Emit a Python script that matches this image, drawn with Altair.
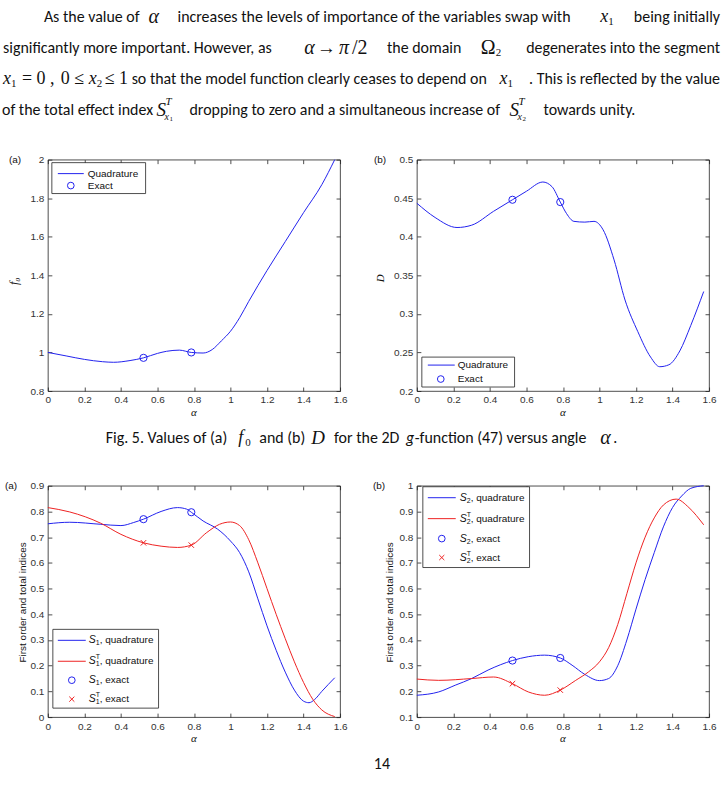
import altair as alt
import pandas as pd

# ---------------- data ----------------
x_ticks = [0, 0.2, 0.4, 0.6, 0.8, 1, 1.2, 1.4, 1.6]
f0_ticks = [0.8, 1, 1.2, 1.4, 1.6, 1.8, 2]
D_ticks = [0.2, 0.25, 0.3, 0.35, 0.4, 0.45, 0.5]
S1_ticks = [0, 0.1, 0.2, 0.3, 0.4, 0.5, 0.6, 0.7, 0.8, 0.9]
S2_ticks = [0.1, 0.2, 0.3, 0.4, 0.5, 0.6, 0.7, 0.8, 0.9, 1]

alpha_exact = [0.5236, 0.7854]

alpha_f0 = [0, 0.1, 0.2, 0.3, 0.36, 0.45, 0.5236, 0.6, 0.65, 0.72, 0.7854, 0.85, 0.9, 0.95,
            1.0, 1.05, 1.1, 1.2, 1.3, 1.4, 1.5, 1.5708]
f0_quad = [1.0, 0.982, 0.964, 0.952, 0.949, 0.958, 0.972, 0.995, 1.006, 1.012, 1.0, 0.997,
           1.015, 1.06, 1.11, 1.18, 1.265, 1.425, 1.575, 1.725, 1.87, 2.0]
f0_exact = [0.972, 1.0]

alpha_D = [0, 0.1, 0.22, 0.3, 0.42, 0.5236, 0.6, 0.69, 0.74, 0.7854, 0.82, 0.86, 0.92, 0.97,
           1.02, 1.08, 1.14, 1.21, 1.28, 1.33, 1.38, 1.44, 1.5, 1.5708]
D_quad = [0.4435, 0.425, 0.412, 0.415, 0.433, 0.448, 0.459, 0.471, 0.465, 0.445, 0.430, 0.420,
          0.419, 0.420, 0.409, 0.370, 0.318, 0.277, 0.244, 0.2315, 0.234, 0.252, 0.285, 0.329]
D_exact = [0.448, 0.445]

alpha_S1 = [0, 0.12, 0.29, 0.4, 0.47, 0.5236, 0.62, 0.71, 0.76, 0.7854, 0.85, 0.93, 1.0, 1.05,
            1.1, 1.15, 1.2, 1.25, 1.3, 1.35, 1.4, 1.43, 1.46, 1.5, 1.5708]
S1_quad = [0.752, 0.758, 0.75, 0.745, 0.757, 0.77, 0.80, 0.815, 0.809, 0.797, 0.763, 0.731,
           0.685, 0.64, 0.565, 0.46, 0.355, 0.26, 0.175, 0.105, 0.062, 0.056, 0.068, 0.10, 0.153]
S1_exact = [0.77, 0.797]

alpha_S1T = [0, 0.12, 0.29, 0.4, 0.5236, 0.62, 0.71, 0.7854, 0.87, 0.94, 1.0, 1.05, 1.1,
             1.15, 1.2, 1.25, 1.3, 1.35, 1.4, 1.45, 1.5, 1.5708]
S1T_quad = [0.815, 0.798, 0.754, 0.711, 0.678, 0.665, 0.66, 0.669, 0.718, 0.75, 0.759, 0.745,
            0.69, 0.60, 0.50, 0.40, 0.305, 0.215, 0.135, 0.07, 0.028, 0.002]
S1T_exact = [0.678, 0.669]

alpha_S2 = [0, 0.12, 0.21, 0.3, 0.39, 0.5236, 0.61, 0.70, 0.7854, 0.85, 0.92, 1.0, 1.05, 1.1,
            1.15, 1.2, 1.25, 1.3, 1.35, 1.4, 1.45, 1.5, 1.5708]
S2_quad = [0.185, 0.198, 0.224, 0.25, 0.283, 0.32, 0.335, 0.341, 0.33, 0.302, 0.266, 0.242,
           0.25, 0.30, 0.40, 0.52, 0.635, 0.74, 0.84, 0.915, 0.96, 0.99, 1.0]
S2_exact = [0.32, 0.33]

alpha_S2T = [0, 0.12, 0.3, 0.42, 0.5236, 0.61, 0.70, 0.7854, 0.87, 0.94, 1.0, 1.05, 1.1,
             1.15, 1.2, 1.25, 1.3, 1.35, 1.42, 1.49, 1.5708]
S2T_quad = [0.248, 0.243, 0.25, 0.256, 0.23, 0.198, 0.185, 0.205, 0.243, 0.276, 0.315, 0.37,
            0.46, 0.58, 0.70, 0.80, 0.875, 0.925, 0.948, 0.915, 0.848]
S2T_exact = [0.23, 0.205]

# ---------------- styling / layout ----------------
BLUE = "#2222ee"
RED = "#ee2222"
SANS = "Liberation Sans"
SERIF = "Liberation Serif"
BODY = "Carlito, Calibri, Lato, sans-serif"
BODY_SIZE = 16
W, H = 293, 232
ORIG = {"TL": (47, 158), "TR": (417, 158), "BL": (47, 485), "BR": (417, 485)}
XSCALE = alt.Scale(domain=[0, 1.6], nice=False, zero=False)
XMARK = "M-1,-1L1,1M-1,1L1,-1"
ONE = pd.DataFrame({"k": [0]})


def ax(values, orient, labels=True):
    kw = dict(values=values, orient=orient, title=None, grid=False, domain=False, ticks=True,
              tickSize=4, offset=-4, tickColor="#222", tickWidth=0.8, labels=labels)
    if labels:
        kw.update(labelFont=SANS, labelFontSize=10, labelColor="#333", labelPadding=4,
                  labelExpr="format(datum.value, '~g')", labelFlush=False,
                  labelOverlap=False, labelBound=False)
    return alt.Axis(**kw)


def T(s, x, y, o, size=BODY_SIZE, font=BODY, style="normal", align="left", baseline="middle",
      angle=0, color="#111"):
    ox, oy = o
    return alt.Chart(ONE).mark_text(text=s, align=align, baseline=baseline, font=font,
                                    fontSize=size, fontStyle=style, angle=angle,
                                    color=color).encode(x=alt.value(x - ox), y=alt.value(y - oy))


def R(x1, y1, x2, y2, o):
    ox, oy = o
    return alt.Chart(ONE).mark_rect(fill="white", stroke="#222", strokeWidth=0.8).encode(
        x=alt.value(x1 - ox), x2=alt.value(x2 - ox), y=alt.value(y1 - oy), y2=alt.value(y2 - oy))


def L(x1, x2, y, o, color):
    ox, oy = o
    return alt.Chart(ONE).mark_rule(color=color, strokeWidth=1).encode(
        x=alt.value(x1 - ox), x2=alt.value(x2 - ox), y=alt.value(y - oy))


def P(x, y, o, color, shape, size):
    ox, oy = o
    return alt.Chart(ONE).mark_point(shape=shape, size=size, filled=False, color=color,
                                     strokeWidth=1, opacity=1).encode(
        x=alt.value(x - ox), y=alt.value(y - oy))


def data_layers(lines, marks, ydom, yticks):
    ysc = alt.Scale(domain=ydom, nice=False, zero=False)
    layers = []
    for i, (a, v, color) in enumerate(lines):
        df = pd.DataFrame({"alpha": a, "v": v})
        layers.append(alt.Chart(df).mark_line(color=color, strokeWidth=1, interpolate="monotone").encode(
            x=alt.X("alpha:Q", scale=XSCALE, axis=ax(x_ticks, "bottom") if i == 0 else None),
            y=alt.Y("v:Q", scale=ysc, axis=ax(yticks, "left") if i == 0 else None)))
    a0, v0, _ = lines[0]
    layers.append(alt.Chart(pd.DataFrame({"alpha": a0, "v": v0})).mark_line(opacity=0).encode(
        x=alt.X("alpha:Q", scale=XSCALE, axis=ax(x_ticks, "top", False)),
        y=alt.Y("v:Q", scale=ysc, axis=ax(yticks, "right", False))))
    for (a, v, color, shape, size) in marks:
        layers.append(alt.Chart(pd.DataFrame({"alpha": a, "v": v})).mark_point(
            shape=shape, size=size, filled=False, color=color, strokeWidth=1, opacity=1).encode(
            x=alt.X("alpha:Q", scale=XSCALE, axis=None),
            y=alt.Y("v:Q", scale=ysc, axis=None)))
    return layers


def s_label(x, y, o, sub, sup, rest):
    out = [T("S", x, y, o, size=10.5, font=SANS, style="italic"),
           T(sub, x + 7, y + 3, o, size=7, font=SANS)]
    if sup:
        out.append(T("T", x + 7, y - 4, o, size=7, font=SANS))
    out.append(T(rest, x + 11, y, o, size=10, font=SANS))
    return out


# ---------------- panel TL : f0 ----------------
o = ORIG["TL"]
tl = [alt.Chart(ONE).mark_rect(fill="white", opacity=0).encode(
    x=alt.value(0 - o[0]), x2=alt.value(722 - o[0]), y=alt.value(0 - o[1]), y2=alt.value(787 - o[1]))]
tl += data_layers([(alpha_f0, f0_quad, BLUE)],
                  [(alpha_exact, f0_exact, BLUE, "circle", 52)], [0.8, 2.0], f0_ticks)
tl += [R(51, 161, 145, 192, o), L(57, 83, 172, o, BLUE), T("Quadrature", 87, 172, o, size=10, font=SANS),
       P(70, 184, o, BLUE, "circle", 45), T("Exact", 87, 184, o, size=10, font=SANS)]
tl += [T("(a)", 8, 158, o, size=10, font=SANS),
       T("f₀", 13, 280, o, size=12, font=SERIF, style="italic", align="center", angle=270),
       T("α", 193.5, 412, o, size=11, font=SERIF, style="italic", align="center")]

# page paragraph text
y1, y2, y3, y4 = 15, 46, 77, 108
tl += [T("As the value of", 43, y1, o),
       T("α", 148, y1, o, size=20, font=SERIF, style="italic"),
       T("increases the levels of importance of the variables swap with", 177, y1, o),
       T("x", 601, y1, o, size=18, font=SERIF, style="italic"),
       T("1", 609, y1 + 5, o, size=11, font=SERIF),
       T("being initially", 721, y1, o, align="right")]
tl += [T("significantly more important. However, as", 2, y2, o),
       T("α", 304, y2, o, size=20, font=SERIF, style="italic"),
       T("→", 317, y2, o, size=19, font=SERIF),
       T("π", 339, y2, o, size=20, font=SERIF, style="italic"),
       T("/2", 352, y2, o, size=20, font=SERIF),
       T("the domain", 387, y2, o),
       T("Ω", 481, y2, o, size=20, font=SERIF),
       T("2", 496, y2 + 5, o, size=11, font=SERIF),
       T("degenerates into the segment", 721, y2, o, align="right")]
tl += [T("x", 2, y3, o, size=18, font=SERIF, style="italic"),
       T("1", 10, y3 + 5, o, size=11, font=SERIF),
       T("= 0 ,", 21, y3, o, size=18, font=SERIF),
       T("0 ≤", 60, y3, o, size=18, font=SERIF),
       T("x", 88, y3, o, size=18, font=SERIF, style="italic"),
       T("2", 96, y3 + 5, o, size=11, font=SERIF),
       T("≤ 1", 104, y3, o, size=18, font=SERIF),
       T("so that the model function clearly ceases to depend on", 131, y3, o),
       T("x", 500, y3, o, size=18, font=SERIF, style="italic"),
       T("1", 508, y3 + 5, o, size=11, font=SERIF),
       T(". This is reflected by the value", 721, y3, o, align="right")]
tl += [T("of the total effect index", 1, y4, o),
       T("S", 156, y4, o, size=19, font=SERIF, style="italic"),
       T("T", 165, y4 - 8, o, size=11, font=SERIF, style="italic"),
       T("x", 164, y4 + 7, o, size=10, font=SERIF, style="italic"),
       T("1", 169, y4 + 9, o, size=7, font=SERIF),
       T("dropping to zero and a simultaneous increase of", 189, y4, o),
       T("S", 510, y4, o, size=19, font=SERIF, style="italic"),
       T("T", 519, y4 - 8, o, size=11, font=SERIF, style="italic"),
       T("x", 518, y4 + 7, o, size=10, font=SERIF, style="italic"),
       T("2", 523, y4 + 9, o, size=7, font=SERIF),
       T("towards unity.", 544, y4, o)]
# caption
yc = 437
tl += [T("Fig. 5. Values of (a)", 105, yc, o),
       T("f", 238, yc, o, size=18, font=SERIF, style="italic"),
       T("0", 245, yc + 5, o, size=11, font=SERIF),
       T("and (b)", 259, yc, o),
       T("D", 311, yc, o, size=19, font=SERIF, style="italic"),
       T("for the 2D", 334, yc, o),
       T("g", 406, yc, o, style="italic"),
       T("-function (47) versus angle", 415, yc, o),
       T("α", 601, yc, o, size=20, font=SERIF, style="italic"),
       T(".", 614, yc, o),
       T("14", 382, 764, o, align="center", size=16)]
TL = alt.layer(*tl).properties(width=W, height=H)

# ---------------- panel TR : D ----------------
o = ORIG["TR"]
tr = data_layers([(alpha_D, D_quad, BLUE)],
                 [(alpha_exact, D_exact, BLUE, "circle", 52)], [0.2, 0.5], D_ticks)
tr += [R(422, 356, 515, 386, o), L(428, 455, 364, o, BLUE), T("Quadrature", 458, 364, o, size=10, font=SANS),
       P(441, 378, o, BLUE, "circle", 45), T("Exact", 458, 378, o, size=10, font=SANS)]
tr += [T("(b)", 374, 158, o, size=10, font=SANS),
       T("D", 381, 277, o, size=11, font=SERIF, style="italic", align="center", angle=270),
       T("α", 563.5, 412, o, size=11, font=SERIF, style="italic", align="center")]
TR = alt.layer(*tr).properties(width=W, height=H)

# ---------------- panel BL : S1 ----------------
o = ORIG["BL"]
bl = data_layers([(alpha_S1, S1_quad, BLUE), (alpha_S1T, S1T_quad, RED)],
                 [(alpha_exact, S1_exact, BLUE, "circle", 52),
                  (alpha_exact, S1T_exact, RED, XMARK, 30)], [0, 0.9], S1_ticks)
bl += [R(52, 629, 158, 708, o),
       L(57, 85, 640, o, BLUE), L(57, 85, 661, o, RED),
       P(71, 680, o, BLUE, "circle", 45), P(71, 699, o, RED, XMARK, 26)]
bl += s_label(88, 640, o, "1", False, ", quadrature")
bl += s_label(88, 661, o, "1", True, ", quadrature")
bl += s_label(88, 680, o, "1", False, ", exact")
bl += s_label(88, 699, o, "1", True, ", exact")
bl += [T("(a)", 4, 485, o, size=10, font=SANS),
       T("First order and total indices", 22, 602, o, size=10, font=SANS, align="center", angle=270),
       T("α", 193.5, 739, o, size=11, font=SERIF, style="italic", align="center")]
BL = alt.layer(*bl).properties(width=W, height=H)

# ---------------- panel BR : S2 ----------------
o = ORIG["BR"]
br = data_layers([(alpha_S2, S2_quad, BLUE), (alpha_S2T, S2T_quad, RED)],
                 [(alpha_exact, S2_exact, BLUE, "circle", 52),
                  (alpha_exact, S2T_exact, RED, XMARK, 30)], [0.1, 1.0], S2_ticks)
br += [R(423, 486, 530, 567, o),
       L(428, 456, 497, o, BLUE), L(428, 456, 518, o, RED),
       P(442, 538, o, BLUE, "circle", 45), P(442, 557, o, RED, XMARK, 26)]
br += s_label(460, 497, o, "2", False, ", quadrature")
br += s_label(460, 518, o, "2", True, ", quadrature")
br += s_label(460, 538, o, "2", False, ", exact")
br += s_label(460, 557, o, "2", True, ", exact")
br += [T("(b)", 373, 485, o, size=10, font=SANS),
       T("First order and total indices", 390, 602, o, size=10, font=SANS, align="center", angle=270),
       T("α", 563.5, 739, o, size=11, font=SERIF, style="italic", align="center")]
BR = alt.layer(*br).properties(width=W, height=H)

chart = alt.concat(TL, TR, BL, BR, columns=2, spacing={"row": 95, "column": 77},
                   bounds="flush").properties(padding=0, background="white").configure_view(
    stroke="#222", strokeWidth=0.8)

chart.save("out.html", embed_options={"renderer": "svg", "actions": False})
